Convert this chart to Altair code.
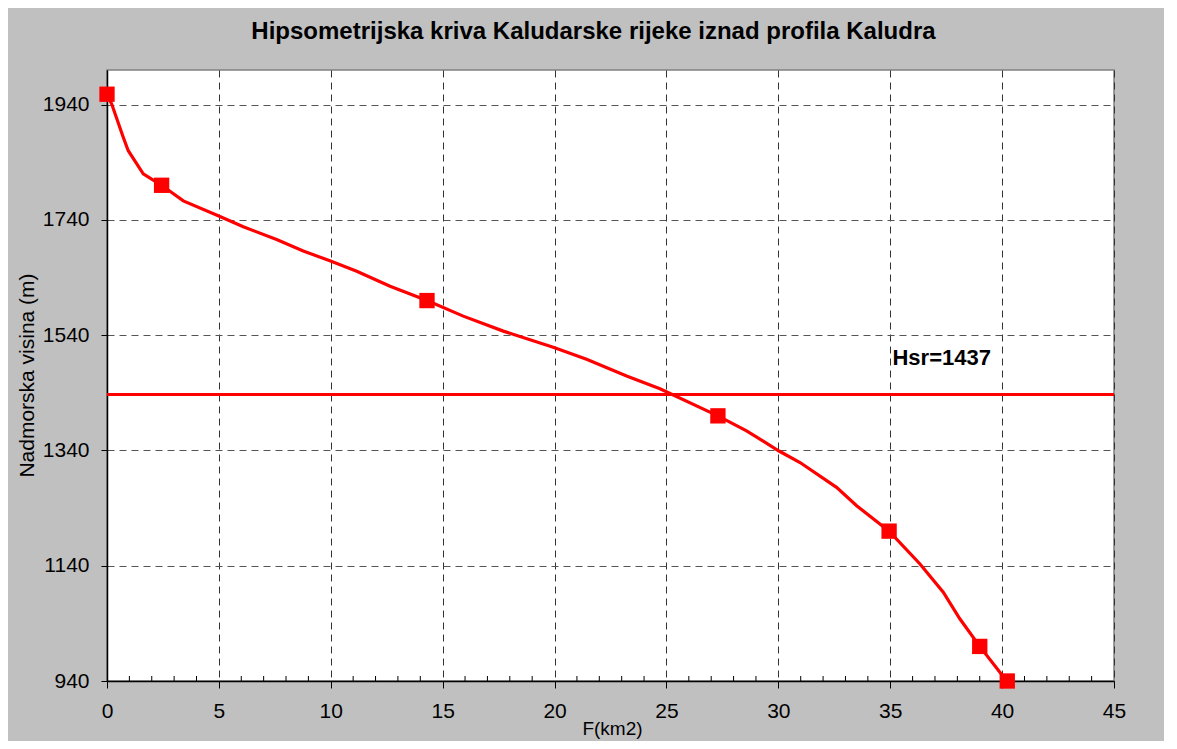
import altair as alt
import pandas as pd

# Hypsometric curve (area F in km2 vs elevation H in m)
curve_f = [0.0, 0.21, 0.73, 0.95, 1.62, 2.44, 3.41, 4.97, 6.09, 7.58, 8.77, 9.96,
           11.16, 12.65, 14.3, 15.92, 17.71, 19.94, 21.43, 23.22, 24.71, 27.3,
           28.58, 30.03, 30.97, 32.6, 33.5, 34.95, 36.33, 37.37, 38.11, 39.0,
           39.9, 40.23]
curve_h = [1958, 1941, 1883, 1860, 1820, 1800, 1773, 1747, 1728, 1706, 1686, 1669,
           1651, 1625, 1600, 1573, 1547, 1519, 1498, 1469, 1447, 1400,
           1374, 1339, 1319, 1276, 1244, 1200, 1143, 1094, 1048, 1000,
           955, 940]

marker_f = [0.0, 2.44, 14.3, 27.3, 34.95, 39.0, 40.23]
marker_h = [1958, 1800, 1600, 1400, 1200, 1000, 940]

hsr_value = 1437
hsr_label = "Hsr=1437"
hsr_label_f = 35.1
hsr_label_h = 1500

x_ticks = [0, 5, 10, 15, 20, 25, 30, 35, 40, 45]
y_ticks = [940, 1140, 1340, 1540, 1740, 1940]
minor_ticks = [v for v in range(1, 45) if v % 5 != 0]

title_text = "Hipsometrijska kriva Kaludarske rijeke iznad profila Kaludra"
x_title = "F(km2)"
y_title = "Nadmorska visina (m)"

W, H = 1007, 611
FONT = "Liberation Sans"
RED = "#FF0000"

curve_df = pd.DataFrame({"F": curve_f, "H": curve_h})
marker_df = pd.DataFrame({"F": marker_f, "H": marker_h})
minor_df = pd.DataFrame({"F": minor_ticks})
hsr_df = pd.DataFrame({"H": [hsr_value]})
label_df = pd.DataFrame({"F": [hsr_label_f], "H": [hsr_label_h], "t": [hsr_label]})

xscale = alt.Scale(domain=[0, 45], nice=False, zero=False)
yscale = alt.Scale(domain=[940, 2000], nice=False, zero=False)

xaxis = alt.Axis(values=x_ticks, format="d", title=x_title, grid=True, gridDash=[7, 5],
                 gridColor="#333333", gridWidth=1, tickSize=7, tickColor="#000000",
                 domainColor="#000000", domainWidth=1.5, labelFont=FONT, labelFontSize=21,
                 labelColor="#000000", labelPadding=12, titleFont=FONT, titleFontSize=19,
                 titleFontWeight="normal", titleColor="#000000", titleX=505, titleY=47,
                 titleBaseline="middle", titleAlign="center", labelFlush=False)
yaxis = alt.Axis(values=y_ticks, format="d", title=y_title, grid=True, gridDash=[7, 5],
                 gridColor="#555555", gridWidth=1, tickSize=6, tickColor="#000000",
                 domainColor="#000000", domainWidth=1.5, labelFont=FONT, labelFontSize=21,
                 labelColor="#000000", labelPadding=12, titleFont=FONT, titleFontSize=21,
                 titleFontWeight="normal", titleColor="#000000", titleX=-80, titleY=305,
                 titleBaseline="middle", titleAlign="center", titleAngle=270, labelFlush=False)

line = alt.Chart(curve_df).mark_line(color=RED, strokeWidth=3.2).encode(
    x=alt.X("F:Q", scale=xscale, axis=xaxis),
    y=alt.Y("H:Q", scale=yscale, axis=yaxis),
)

hsr = alt.Chart(hsr_df).mark_rule(color=RED, strokeWidth=3).encode(
    y=alt.Y("H:Q", scale=yscale),
)

minor = alt.Chart(minor_df).mark_rule(color="#000000", strokeWidth=1).encode(
    x=alt.X("F:Q", scale=xscale),
    y=alt.value(H),
    y2=alt.value(H - 5),
)

markers = alt.Chart(marker_df).mark_point(shape="square", filled=True, color=RED,
                                          opacity=1, size=235).encode(
    x=alt.X("F:Q", scale=xscale),
    y=alt.Y("H:Q", scale=yscale),
)

label = alt.Chart(label_df).mark_text(font=FONT, fontSize=22, fontWeight="bold",
                                      align="left", baseline="middle",
                                      color="#000000").encode(
    x=alt.X("F:Q", scale=xscale),
    y=alt.Y("H:Q", scale=yscale),
    text="t:N",
)

chart = alt.layer(minor, hsr, line, markers, label).properties(
    width=W, height=H,
    title=alt.TitleParams(title_text, font=FONT, fontSize=24, fontWeight="bold",
                          color="#000000", anchor="middle", dx=-17, offset=26),
    autosize=alt.AutoSizeParams(type="none"),
    padding={"left": 99, "top": 62, "right": 50, "bottom": 60},
).configure(background="#C0C0C0").configure_view(
    fill="#FFFFFF", stroke="#808080", strokeWidth=1.5
)

chart.save("out.html", embed_options={"renderer": "svg", "actions": False})
